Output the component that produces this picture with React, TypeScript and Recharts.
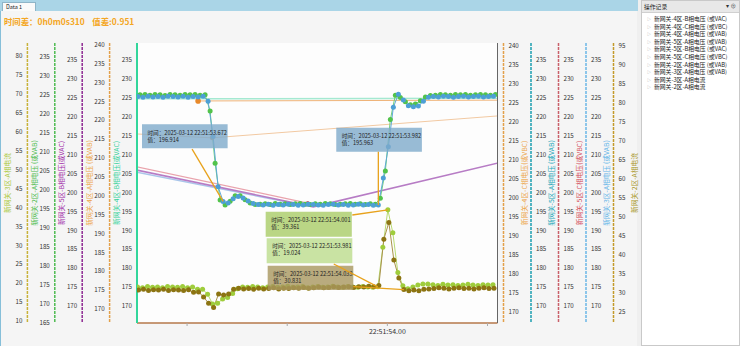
import React from "react";
import {
  ComposedChart,
  Line,
  XAxis,
  YAxis,
  ReferenceArea,
  ReferenceLine,
  CartesianGrid,
} from "recharts";

// ---------- sampling clock (seconds within 22:51) ----------
const sampleStep = 0.01;
const blueStart = 53.502;
const greenStart = 53.506;
const limeStart = 53.501;
const oliveStart = 53.503;

// blue-dot voltage series (drawn on the 2区 voltage scale)
const blueValues = [
  224.5, 224.3, 224.6, 224.4, 224.5, 224.3, 224.6, 224.5, 224.4, 224.6, 224.3, 224.5, 224.4, 224.6,
  223.3, 214.0, 200.8, 196.914, 196.5, 197.6, 198.2, 197.8, 197.0, 196.4,
  196.1, 196.0, 196.2, 195.9, 196.1, 196.0, 196.2, 196.1, 195.9, 196.0, 196.2, 196.1,
  196.0, 195.9, 196.1, 196.2, 196.0, 196.1, 195.9, 196.0, 196.2, 196.0, 196.1, 195.9,
  195.963,
  203.1, 211.3, 221.7, 225.1, 223.6, 222.1, 221.8, 222.0, 223.3, 224.3,
  224.5, 224.4, 224.6, 224.5, 224.3, 224.5, 224.6, 224.4, 224.5, 224.6, 224.4, 224.5, 224.6,
];

// green-dot voltage series
const greenValues = [
  225.8, 225.9, 225.7, 225.9, 225.8, 225.6, 225.9, 225.8, 225.7, 225.9, 225.8, 225.9, 225.7, 225.8,
  221.5, 207.7, 198.0, 196.7, 197.7, 199.1, 199.1, 198.1, 197.2, 196.8,
  196.9, 197.0, 196.8, 197.1, 196.9, 197.0, 196.8, 197.0, 197.1, 196.9, 196.8, 197.0,
  196.9, 197.1, 197.0, 196.8, 196.9, 197.0, 197.1, 196.9, 197.0, 196.8, 197.0, 196.9,
  198.5,
  205.7, 219.3, 225.7, 225.1, 224.0, 223.2, 223.4, 224.2, 225.2, 225.6,
  225.7, 225.9, 225.8, 225.7, 225.9, 225.8, 225.9, 225.7, 225.8, 225.9, 225.8, 225.7, 225.9,
];

// 新网关-3区-A相电流
const limeValues = [
  19.0, 18.8, 19.1, 18.9, 19.0, 18.8, 19.1, 19.0, 18.9, 19.1, 18.8, 19.0,
  18.4, 18.4, 17.1, 14.5, 14.7, 15.8, 16.2, 17.3, 18.5, 19.0,
  18.9, 19.1, 19.0, 18.8, 19.0, 19.1, 18.9, 19.0, 19.2, 18.9, 19.0, 19.1, 18.8,
  19.0, 19.1, 18.9, 19.0, 19.2, 19.0, 18.9, 19.1, 19.0, 18.9, 19.1, 19.0, 18.9,
  19.024,
  29.5, 39.361, 33.3, 22.8, 19.3, 18.5, 19.0, 19.5, 19.8, 19.8,
  19.6, 19.4, 19.7, 19.5, 19.6, 19.4, 19.5, 19.7, 19.5, 19.4, 19.6, 19.5, 19.6,
];

// 新网关-2区-A相电流
const oliveValues = [
  30.7, 30.9, 30.6, 30.8, 30.7, 30.9, 30.6, 30.8, 30.7, 30.6, 30.8,
  30.1, 30.2, 28.9, 27.2, 26.1, 29.7, 29.4, 29.7, 30.9, 31.2,
  31.0, 31.1, 30.9, 31.2, 31.0, 31.1, 31.3, 31.0, 31.2, 31.1, 31.3, 31.2, 31.4, 31.2,
  31.3, 31.5, 31.3, 31.4, 31.6, 31.4, 31.5, 31.6, 31.4, 31.6, 31.5, 31.7, 31.6,
  31.9,
  44.1, 48.5, 38.6, 33.9, 30.831, 30.5, 30.7, 30.5, 30.9, 31.0,
  31.1, 31.3, 31.2, 31.0, 31.2, 31.3, 31.1, 31.2, 31.0, 31.2, 31.3, 31.1, 31.2,
];

// sparse series (few samples, some outside the visible window)
const mintTimes = [53.3, 54.45];
const mintValues = [224.7, 224.9];
const orangeTimes = [53.622, 54.45];
const orangeValues = [225.1, 225.4];
const peachTimes = [53.3, 53.65, 54.4];
const peachValues = [218.2, 215.8, 223.4];
const purpleTimes = [53.3, 53.852, 54.4];
const purpleValues = [211.4, 196.2, 213.4];
const pinkTimes = [53.3, 53.841];
const pinkValues = [212.4, 197.2];
const skyTimes = [53.3, 53.83];
const skyValues = [210.6, 196.7];

// axes
const xDomain = [53.5, 54.22];
const xTicks = [53.6, 53.8, 54.0, 54.2];
const xLabeledTick = 54.0;
const xTickLabel = "22:51:54.00";

const ticksA1 = [10, 15, 20, 25, 30, 35, 40, 45, 50, 55, 60, 65, 70, 75, 80];
const ticksA2 = [165, 170, 175, 180, 185, 190, 195, 200, 205, 210, 215, 220, 225, 230, 235];
const ticks170to235 = [170, 175, 180, 185, 190, 195, 200, 205, 210, 215, 220, 225, 230, 235];
const ticks170to240 = [170, 175, 180, 185, 190, 195, 200, 205, 210, 215, 220, 225, 230, 235, 240];
const ticksR5 = [25, 30, 35, 40, 45, 50, 55, 60, 65, 70, 75, 80, 85, 90, 95];

const titleA1 = "新网关-3区-A相电流";
const titleA2 = "新网关-2区-A相电压 (或VAB)";
const titleA3 = "新网关-5区-B相电压(或VAC)";
const titleA4 = "新网关-4区-A相电压 (或VAB)";
const titleA5 = "新网关-4区-B相电压(或VAC)";
const titleR1 = "新网关-4区-C相电压(或VBC)";
const titleR2 = "新网关-5区-A相电压 (或VAB)";
const titleR3 = "新网关-5区-C相电压(或VBC)";
const titleR4 = "新网关-3区-A相电压 (或VAB)";
const titleR5 = "新网关-2区-A相电流";

// left axis ids (sorted id order = nearest the plot first)
const A5 = "la";
const A4 = "lb";
const A3 = "lc";
const A2 = "ld";
const A1 = "le";

// callouts
const calloutSeconds = ["53.672", "53.982", "54.001", "53.981", "54.033"];
const calloutValues = ["196.914", "195.963", "39.361", "19.024", "30.831"];
const calloutAxes = [A2, A2, A1, A1, "r5"];
const calloutBoxX = [[53.51, 53.681], [53.898, 54.069], [53.757, 53.929], [53.759, 53.93], [53.761, 53.932]];
const calloutBoxY = [[210.9, 217.2], [210.0, 216.3], [32.27, 38.87], [25.24, 31.85], [30.72, 37.12]];
const calloutFrom = [[53.61, 210.7], [53.982, 210.0], [53.93, 38.0], [53.893, 25.06], [53.932, 31.6]];
const calloutTo = [[53.672, 196.914], [53.982, 195.963], [54.001, 39.361], [53.981, 19.024], [54.033, 30.831]];
const calloutFills = ["#7eaacb", "#7eaacb", "#a9cc66", "#bcdc8c", "#a8965e"];

const logItems = [
  "新网关-4区-B相电压 (或VAC)",
  "新网关-4区-C相电压 (或VBC)",
  "新网关-4区-A相电压 (或VAB)",
  "新网关-5区-A相电压 (或VAB)",
  "新网关-5区-B相电压 (或VAC)",
  "新网关-5区-C相电压 (或VBC)",
  "新网关-2区-A相电压 (或VAB)",
  "新网关-3区-A相电压 (或VAB)",
  "新网关-3区-A相电流",
  "新网关-2区-A相电流",
];

const toSeries = (start: number, values: number[]) =>
  values.map((v, i) => ({ t: Math.round((start + i * sampleStep) * 1000) / 1000, v }));
const zip = (times: number[], values: number[]) => times.map((t, i) => ({ t, v: values[i] }));

const FONT = "'Noto Sans CJK SC', 'Noto Sans', sans-serif";

const makeTitle = (text: string, color: string, side: "left" | "right") => (props: any) => {
  const vb = props.viewBox || {};
  const cx = side === "left" ? vb.x + 6.5 : vb.x + 20;
  const cy = vb.y + vb.height / 2;
  return (
    <text
      x={cx}
      y={cy}
      transform={`rotate(-90 ${cx} ${cy})`}
      textAnchor="middle"
      dominantBaseline="central"
      fill={color}
      fontSize={6.8}
    >
      {text}
    </text>
  );
};

const makeCalloutLabel = (l1: string, l2: string) => (props: any) => {
  const vb = props.viewBox || {};
  return (
    <g>
      <text x={vb.x + 5.5} y={vb.y + 8.2} fontSize={5.6} fill="#222" dominantBaseline="central">
        {l1}
      </text>
      <text x={vb.x + 5.5} y={vb.y + 15.2} fontSize={5.6} fill="#222" dominantBaseline="central">
        {l2}
      </text>
    </g>
  );
};

const tickStyle = { fontSize: 6.2, fill: "#333" };

function yAxis(
  id: string,
  orientation: "left" | "right",
  width: number,
  domain: number[],
  ticks: number[],
  lineColor: string,
  title: string,
  titleColor: string,
  lineWidth = 1.5,
  dash = "3 1"
) {
  return (
    <YAxis
      key={id}
      yAxisId={id}
      orientation={orientation}
      width={width}
      type="number"
      domain={domain}
      allowDataOverflow
      ticks={ticks}
      interval={0}
      tick={tickStyle}
      tickLine={false}
      tickSize={2}
      tickMargin={3}
      axisLine={{ stroke: lineColor, strokeWidth: lineWidth, strokeDasharray: dash }}
      label={makeTitle(title, titleColor, orientation)}
    />
  );
}

export default function App() {
  const blue = toSeries(blueStart, blueValues);
  const green = toSeries(greenStart, greenValues);
  const lime = toSeries(limeStart, limeValues);
  const olive = toSeries(oliveStart, oliveValues);

  return (
    <div
      style={{
        position: "fixed",
        left: 0,
        top: 0,
        width: 740,
        height: 346,
        background: "#efefef",
        overflow: "hidden",
        fontFamily: FONT,
      }}
    >
      {/* left panel */}
      <div
        style={{
          position: "absolute",
          left: 0,
          top: 0,
          width: 637,
          height: 346,
          background: "#f5f5f5",
          borderLeft: "1px solid #86bfd9",
          boxSizing: "border-box",
        }}
      />
      <div style={{ position: "absolute", left: 0, top: 0, width: 638, height: 11, background: "#aad5e7" }} />
      <div
        style={{
          position: "absolute",
          left: 2,
          top: 2,
          width: 34,
          height: 9,
          background: "#fafafa",
          border: "1px solid #8fb5c8",
          borderBottom: "none",
          boxSizing: "border-box",
          fontSize: 5.5,
          lineHeight: "8px",
          paddingLeft: 3,
          color: "#222",
        }}
      >
        Data 1
      </div>
      <div
        style={{
          position: "absolute",
          left: 4,
          top: 16,
          fontSize: 8.4,
          fontWeight: 700,
          color: "#f4a623",
          lineHeight: "10px",
          whiteSpace: "pre",
        }}
      >
        {"时间差：0h0m0s310    值差:0.951"}
      </div>

      <div style={{ position: "absolute", left: 0, top: 0 }}>
        <ComposedChart width={641} height={343} margin={{ top: 43, right: 0, bottom: 0, left: 0 }}>
          <CartesianGrid xAxisId="x" yAxisId={A1} horizontal={false} vertical={false} fill="#fdfdfd" />
          <XAxis
            xAxisId="x"
            dataKey="t"
            type="number"
            domain={xDomain}
            allowDataOverflow
            ticks={xTicks}
            interval={0}
            height={20}
            tickFormatter={(t: number) => (Math.abs(t - xLabeledTick) < 1e-6 ? xTickLabel : "")}
            tick={{ fontSize: 7, fill: "#333" }}
            tickSize={3}
            tickMargin={3}
            tickLine={{ stroke: "#aaa" }}
            axisLine={{ stroke: "#b5774a", strokeWidth: 1.5 }}
          />
          <XAxis
            xAxisId="top"
            orientation="top"
            type="number"
            domain={xDomain}
            allowDataOverflow
            height={0}
            tick={false}
            tickLine={false}
            axisLine={{ stroke: "#9a9a9a", strokeWidth: 1 }}
          />
          {yAxis(A5, "left", 27.4, [165.51, 239.49], ticks170to235, "#32d69b", titleA5, "#34d29a", 2, "none")}
          {yAxis(A4, "left", 27.4, [166.3, 240.45], ticks170to240, "#e3a04a", titleA4, "#eda54a")}
          {yAxis(A3, "left", 27.4, [165.51, 239.49], ticks170to235, "#8e2a92", titleA3, "#a02aa8")}
          {yAxis(A2, "left", 27.4, [164.92, 238.61], ticksA2, "#4dbb50", titleA2, "#4cbb4c")}
          {yAxis(A1, "left", 27.4, [9.48, 83.43], ticksA1, "#c8b23a", titleA1, "#a9c83a")}
          <YAxis
            yAxisId="pad"
            orientation="right"
            width={6}
            type="number"
            domain={[0, 1]}
            tick={false}
            tickLine={false}
            axisLine={{ stroke: "#666", strokeWidth: 1 }}
          />
          {yAxis("r1", "right", 27.5, [167.03, 240.79], ticks170to240, "#e3a04a", titleR1, "#eda54a")}
          {yAxis("r2", "right", 27.5, [165.51, 239.49], ticks170to235, "#1d9fb0", titleR2, "#1aa5b8")}
          {yAxis("r3", "right", 27.5, [165.51, 239.49], ticks170to235, "#c9606a", titleR3, "#d4505e")}
          {yAxis("r4", "right", 27.5, [165.51, 239.49], ticks170to235, "#6bb6e6", titleR4, "#62b4e8")}
          {yAxis("r5", "right", 27.5, [22.03, 95.79], ticksR5, "#c49a2a", titleR5, "#a8952a")}

          {/* sparse series */}
          <Line xAxisId="x" yAxisId={A5} data={zip(mintTimes, mintValues)} dataKey="v" stroke="#a5e9d1" strokeWidth={1.5} dot={false} isAnimationActive={false} />
          <Line xAxisId="x" yAxisId="r1" data={zip(peachTimes, peachValues)} dataKey="v" stroke="#f2c9a2" strokeWidth={1} dot={{ r: 2.3, fill: "#c9a070", stroke: "none" }} isAnimationActive={false} />
          <Line xAxisId="x" yAxisId="r3" data={zip(pinkTimes, pinkValues)} dataKey="v" stroke="#e9a3ac" strokeWidth={1.2} dot={{ r: 2, fill: "#cf5f6a", stroke: "none" }} isAnimationActive={false} />
          <Line xAxisId="x" yAxisId="r2" data={zip(skyTimes, skyValues)} dataKey="v" stroke="#aac6ea" strokeWidth={1.5} dot={false} isAnimationActive={false} />
          <Line xAxisId="x" yAxisId={A3} data={zip(purpleTimes, purpleValues)} dataKey="v" stroke="#b77cc5" strokeWidth={1.6} dot={false} isAnimationActive={false} />
          <Line xAxisId="x" yAxisId={A4} data={zip(orangeTimes, orangeValues)} dataKey="v" stroke="#efb378" strokeWidth={1} dot={{ r: 2.8, fill: "#e8892a", stroke: "none" }} isAnimationActive={false} />

          {/* dense series */}
          <Line xAxisId="x" yAxisId={A1} data={lime} dataKey="v" stroke="#b8d970" strokeWidth={1} dot={{ r: 2.5, fill: "#9fcd3c", stroke: "none" }} isAnimationActive={false} />
          <Line xAxisId="x" yAxisId="r5" data={olive} dataKey="v" stroke="#a8934a" strokeWidth={1} dot={{ r: 2.5, fill: "#8c7412", stroke: "none" }} isAnimationActive={false} />
          <Line xAxisId="x" yAxisId="r4" data={green} dataKey="v" stroke="#6fcf77" strokeWidth={1} dot={{ r: 2.5, fill: "#52c34a", stroke: "none" }} isAnimationActive={false} />
          <Line xAxisId="x" yAxisId={A2} data={blue} dataKey="v" stroke="#5fa8d8" strokeWidth={1} dot={{ r: 2.5, fill: "#4d9fd6", stroke: "none" }} isAnimationActive={false} />

          {/* callouts */}
          {calloutSeconds.map((s, i) => (
            <ReferenceArea
              key={"box" + i}
              xAxisId="x"
              yAxisId={calloutAxes[i]}
              x1={calloutBoxX[i][0]}
              x2={calloutBoxX[i][1]}
              y1={calloutBoxY[i][0]}
              y2={calloutBoxY[i][1]}
              fill={calloutFills[i]}
              fillOpacity={0.8}
              stroke="none"
              ifOverflow="visible"
              zIndex={2000}
              label={makeCalloutLabel(`时间：2025-03-12 22:51:${s}`, `值：${calloutValues[i]}`)}
            />
          ))}
          {calloutSeconds.map((s, i) => (
            <ReferenceLine
              key={"lead" + i}
              xAxisId="x"
              yAxisId={calloutAxes[i]}
              segment={[
                { x: calloutFrom[i][0], y: calloutFrom[i][1] },
                { x: calloutTo[i][0], y: calloutTo[i][1] },
              ]}
              stroke="#e8a21c"
              strokeWidth={1.3}
              ifOverflow="visible"
              zIndex={2000}
            />
          ))}
        </ComposedChart>
      </div>

      {/* right panel */}
      <div
        style={{
          position: "absolute",
          left: 641,
          top: 0,
          width: 99,
          height: 346,
          background: "#ffffff",
          border: "1px solid #c9c9c9",
          boxSizing: "border-box",
        }}
      >
        <div
          style={{
            height: 11,
            background: "#e8e8e8",
            borderBottom: "1px solid #d0d0d0",
            fontSize: 5.8,
            lineHeight: "11px",
            paddingLeft: 2,
            color: "#222",
            position: "relative",
          }}
        >
          操作记录
          <span style={{ position: "absolute", right: 3, top: 0, fontSize: 5.5, color: "#333" }}>▾ ⊕</span>
        </div>
        {logItems.map((item, i) => (
          <div
            key={item}
            style={{
              position: "absolute",
              left: 5,
              top: 14 + i * 7.6,
              fontSize: 5.8,
              lineHeight: "7px",
              color: "#222",
              whiteSpace: "nowrap",
            }}
          >
            <span style={{ color: "#999", fontSize: 4, marginRight: 3 }}>▷</span>
            {item}
          </div>
        ))}
      </div>
    </div>
  );
}
